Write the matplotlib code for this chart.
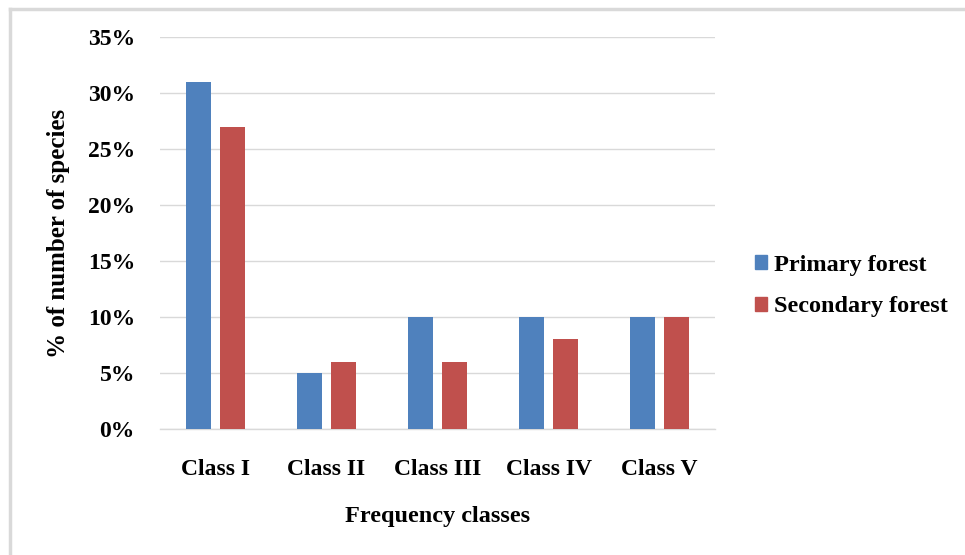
import numpy as np
import matplotlib.pyplot as plt
from matplotlib.lines import Line2D
from matplotlib.patches import Patch

classes = ["Class I", "Class II", "Class III", "Class IV", "Class V"]
primary = [0.31, 0.05, 0.10, 0.10, 0.10]
secondary = [0.27, 0.06, 0.06, 0.08, 0.10]
yticks = [0.0, 0.05, 0.10, 0.15, 0.20, 0.25, 0.30, 0.35]

blue = "#4F81BD"
red = "#C0504D"
grid_col = "#D9D9D9"

plt.rcParams["font.family"] = ["Liberation Serif", "DejaVu Serif"]
plt.rcParams["font.weight"] = "bold"

fig = plt.figure(figsize=(9.65, 5.55), dpi=100)
ax = fig.add_axes([160 / 965, 1 - 429 / 555, 555 / 965, 392 / 555])

x = np.arange(len(classes))
w = 0.225
off = 0.149
ax.bar(x - off, primary, w, color=blue, label="Primary forest", zorder=3)
ax.bar(x + off, secondary, w, color=red, label="Secondary forest", zorder=3)

ax.set_xlim(-0.5, len(classes) - 0.5)
ax.set_ylim(0, 0.35)
ax.set_yticks(yticks)
ax.set_yticklabels([f"{int(round(v * 100))}%" for v in yticks])
ax.set_xticks(x)
ax.set_xticklabels(classes)

ax.grid(axis="y", color=grid_col, linewidth=1, zorder=0)
for s in ["top", "right", "left"]:
    ax.spines[s].set_visible(False)
ax.spines["bottom"].set_color(grid_col)
ax.spines["bottom"].set_linewidth(1)
ax.tick_params(axis="both", length=0, labelsize=17)
ax.tick_params(axis="y", pad=18)
ax.tick_params(axis="x", pad=21.5)

ax.set_xlabel("Frequency classes", fontsize=17.5, fontweight="bold", labelpad=19)
ax.set_ylabel("% of number of species", fontsize=18, fontweight="bold", labelpad=13)

handles = [Patch(color=blue, label="Primary forest"),
           Patch(color=red, label="Secondary forest")]
fig.legend(handles=handles, loc="center left", bbox_to_anchor=(755 / 965, 1 - 286 / 555),
           frameon=False, fontsize=17.5, handlelength=0.5, handleheight=0.5,
           handletextpad=0.28, labelspacing=0.86, borderpad=0, borderaxespad=0)

# thin frame around the chart area
fig.add_artist(Line2D([10 / 965, 1], [1 - 9 / 555, 1 - 9 / 555], color="#D9D9D9", lw=2.5,
                      transform=fig.transFigure))
fig.add_artist(Line2D([10 / 965, 10 / 965], [0, 1 - 9 / 555], color="#D9D9D9", lw=2.5,
                      transform=fig.transFigure))

fig.savefig("out.png", dpi=100, facecolor="white")
